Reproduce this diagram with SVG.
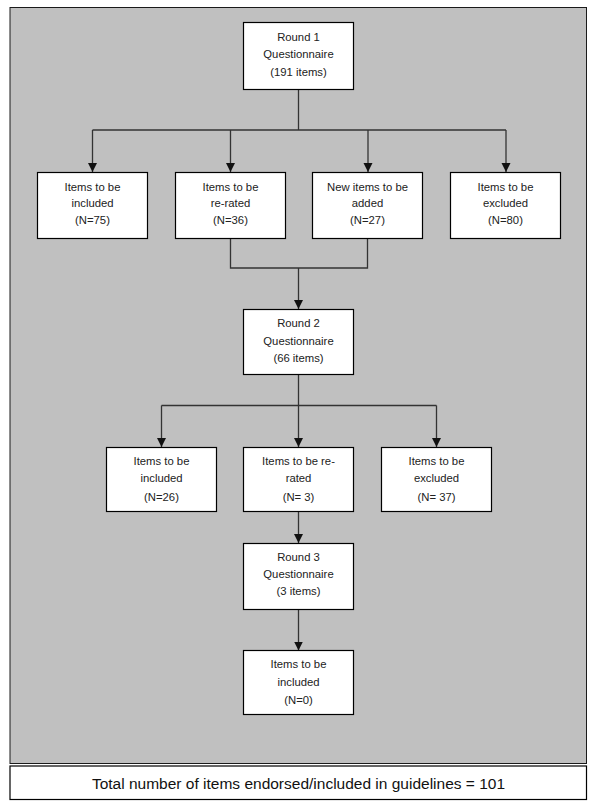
<svg xmlns="http://www.w3.org/2000/svg" width="595" height="809" viewBox="0 0 595 809">
<style>
.bg{fill:#c0c0c0;stroke:#1a1a1a;stroke-width:1}
.box rect{fill:#ffffff;stroke:#000000;stroke-width:1.2}
.box text{font-family:"Liberation Sans",Arial,sans-serif;font-size:11.3px;fill:#222222;text-anchor:middle}
.conn{fill:none;stroke:#333333;stroke-width:1.3}
.total text{font-family:"Liberation Sans",Arial,sans-serif;font-size:15.5px;fill:#111111;text-anchor:middle}
</style>
<defs>
<marker id="ah" markerUnits="userSpaceOnUse" markerWidth="10" markerHeight="10" viewBox="0 0 10 10" refX="9" refY="5" orient="auto">
<path d="M0,0.5 L9,5 L0,9.5 Z" fill="#111111"/>
</marker>
</defs>
<rect class="bg" x="10" y="7.5" width="576.5" height="756"/>
<g id="connectors" class="conn">
<path d="M298.5,89 V130"/>
<path d="M92.5,130 H506"/>
<path d="M92.5,130 V172" marker-end="url(#ah)"/>
<path d="M230.5,130 V172" marker-end="url(#ah)"/>
<path d="M368,130 V172" marker-end="url(#ah)"/>
<path d="M506,130 V172" marker-end="url(#ah)"/>
<path d="M230.5,238 V268 H367.5 V238"/>
<path d="M298.5,268 V309" marker-end="url(#ah)"/>
<path d="M298.5,374 V405.5"/>
<path d="M161.5,405.5 H436.5"/>
<path d="M161.5,405.5 V447" marker-end="url(#ah)"/>
<path d="M298.5,405.5 V447" marker-end="url(#ah)"/>
<path d="M436.5,405.5 V447" marker-end="url(#ah)"/>
<path d="M298.5,511 V543" marker-end="url(#ah)"/>
<path d="M298.5,609 V650.5" marker-end="url(#ah)"/>
</g>
<g id="round1" class="box">
<rect x="243.5" y="22.5" width="110" height="67"/>
<text x="298.5" y="40.7">Round 1</text>
<text x="298.5" y="58">Questionnaire</text>
<text x="298.5" y="76">(191 items)</text>
</g>
<g id="r1-included" class="box">
<rect x="37.5" y="172.5" width="110" height="66"/>
<text x="92.5" y="190.5">Items to be</text>
<text x="92.5" y="207.3">included</text>
<text x="92.5" y="224">(N=75)</text>
</g>
<g id="r1-rerated" class="box">
<rect x="175.5" y="172.5" width="110" height="66"/>
<text x="230.5" y="190.5">Items to be</text>
<text x="230.5" y="207.3">re-rated</text>
<text x="230.5" y="224">(N=36)</text>
</g>
<g id="r1-new" class="box">
<rect x="312.5" y="172.5" width="110" height="66"/>
<text x="367.5" y="190.5">New items to be</text>
<text x="367.5" y="207.3">added</text>
<text x="367.5" y="224">(N=27)</text>
</g>
<g id="r1-excluded" class="box">
<rect x="450.5" y="172.5" width="110" height="66"/>
<text x="505.5" y="190.5">Items to be</text>
<text x="505.5" y="207.3">excluded</text>
<text x="505.5" y="224">(N=80)</text>
</g>
<g id="round2" class="box">
<rect x="243.5" y="309.5" width="110" height="65"/>
<text x="298.5" y="327.3">Round 2</text>
<text x="298.5" y="345">Questionnaire</text>
<text x="298.5" y="362.3">(66 items)</text>
</g>
<g id="r2-included" class="box">
<rect x="106.5" y="447.5" width="110" height="64"/>
<text x="161.5" y="465">Items to be</text>
<text x="161.5" y="482.3">included</text>
<text x="161.5" y="500.5">(N=26)</text>
</g>
<g id="r2-rerated" class="box">
<rect x="243.5" y="447.5" width="110" height="64"/>
<text x="298.5" y="465">Items to be re-</text>
<text x="298.5" y="482.3">rated</text>
<text x="298.5" y="500.5">(N= 3)</text>
</g>
<g id="r2-excluded" class="box">
<rect x="381.5" y="447.5" width="110" height="64"/>
<text x="436.5" y="465">Items to be</text>
<text x="436.5" y="482.3">excluded</text>
<text x="436.5" y="500.5">(N= 37)</text>
</g>
<g id="round3" class="box">
<rect x="243.5" y="543.5" width="110" height="66"/>
<text x="298.5" y="561.3">Round 3</text>
<text x="298.5" y="578">Questionnaire</text>
<text x="298.5" y="595">(3 items)</text>
</g>
<g id="r3-included" class="box">
<rect x="243.5" y="650.5" width="110" height="64"/>
<text x="298.5" y="668">Items to be</text>
<text x="298.5" y="686">included</text>
<text x="298.5" y="703.5">(N=0)</text>
</g>
<g id="total" class="total">
<rect x="10" y="766" width="576.5" height="33.5" fill="#ffffff" stroke="#000000" stroke-width="1.2"/>
<text x="298.5" y="788.5">Total number of items endorsed/included in guidelines = 101</text>
</g>
</svg>
